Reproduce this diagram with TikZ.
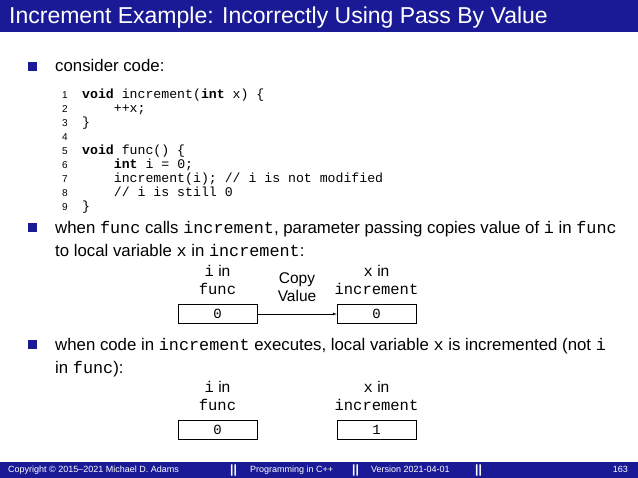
\documentclass[tikz,border=0pt]{standalone}
\usepackage{fontspec}
\setmainfont{Liberation Sans}
\newfontfamily\cod{Liberation Mono}
\definecolor{bar}{RGB}{26,26,150}
\tikzset{
 txt/.style={anchor=base west,inner sep=0pt,font=\fontsize{16.8}{19}\selectfont},
 cl/.style={anchor=base west,inner sep=0pt,font=\cod\fontsize{13.2}{15}\selectfont},
 ln/.style={anchor=base east,inner sep=0pt,font=\fontsize{10}{12}\selectfont},
 bul/.style={fill=bar,minimum size=9pt,inner sep=0pt},
 val/.style={draw,minimum width=79pt,minimum height=19pt,inner sep=0pt,font=\cod\fontsize{14}{15}\selectfont},
 lab/.style={align=center,inner sep=0pt,font=\fontsize{15.5}{18}\selectfont},
 foot/.style={anchor=base west,inner sep=0pt,text=white,font=\fontsize{9}{10}\selectfont}
}
\begin{document}
\begin{tikzpicture}[x=1pt,y=-1pt]
\useasboundingbox (0,0) rectangle (638,478);
\fill[bar] (0,0) rectangle (638,32);
\node[anchor=base west,inner sep=0pt,text=white,font=\fontsize{23}{26}\selectfont] (title) at (9,24) {Increment Example: Incorrectly Using Pass By Value};
\node[bul] (b1) at (32,67) {};
\node[txt] (t1) at (55,72) {consider code:};
\foreach \n/\y/\c in {1/99/{\textbf{void} increment(\textbf{int} x) \{},2/113/{\ \ \ \ ++x;},3/127/{\}},4/141/{},5/155/{\textbf{void} func() \{},6/169/{\ \ \ \ \textbf{int} i = 0;},7/183/{\ \ \ \ increment(i); // i is not modified},8/197/{\ \ \ \ // i is still 0},9/211/{\}}}{
 \node[ln] (n\n) at (68,\y) {\n};
 \node[cl] (c\n) at (82,\y) {\c};
}
\node[bul] (b2) at (32,228) {};
\node[txt] (t2) at (55,234) {when {\cod func} calls {\cod increment}, parameter passing copies value of {\cod i} in {\cod func}};
\node[txt] (t2b) at (55,257) {to local variable {\cod x} in {\cod increment}:};
\node[val] (a1) at (217.5,314) {0};
\node[val] (a2) at (376.5,314) {0};
\node[lab] (la1) at (217.5,280) {{\cod i} in\\{\cod func}};
\node[lab] (la2) at (376.5,280) {{\cod x} in\\{\cod increment}};
\node[lab] (cv) at (297,287) {Copy\\Value};
\draw[-latex] (a1) -- (a2);
\node[bul] (b3) at (32,345) {};
\node[txt] (t3) at (55,351) {when code in {\cod increment} executes, local variable {\cod x} is incremented (not {\cod i}};
\node[txt] (t3b) at (55,374) {in {\cod func}):};
\node[val] (d1) at (217.5,430) {0};
\node[val] (d2) at (376.5,430) {1};
\node[lab] (ld1) at (217.5,396) {{\cod i} in\\{\cod func}};
\node[lab] (ld2) at (376.5,396) {{\cod x} in\\{\cod increment}};
\fill[bar] (0,462) rectangle (638,478);
\node[foot] (f1) at (8,473) {Copyright \textcopyright\ 2015--2021 Michael D. Adams};
\node[foot,font=\bfseries\fontsize{12}{10}\selectfont] (s1) at (230,474) {||};
\node[foot] (f2) at (250,473) {Programming in C++};
\node[foot,font=\bfseries\fontsize{12}{10}\selectfont] (s2) at (352,474) {||};
\node[foot] (f3) at (371,473) {Version 2021-04-01};
\node[foot,font=\bfseries\fontsize{12}{10}\selectfont] (s3) at (475,474) {||};
\node[foot,anchor=base east] (f4) at (628,473) {163};
\end{tikzpicture}
\end{document}
